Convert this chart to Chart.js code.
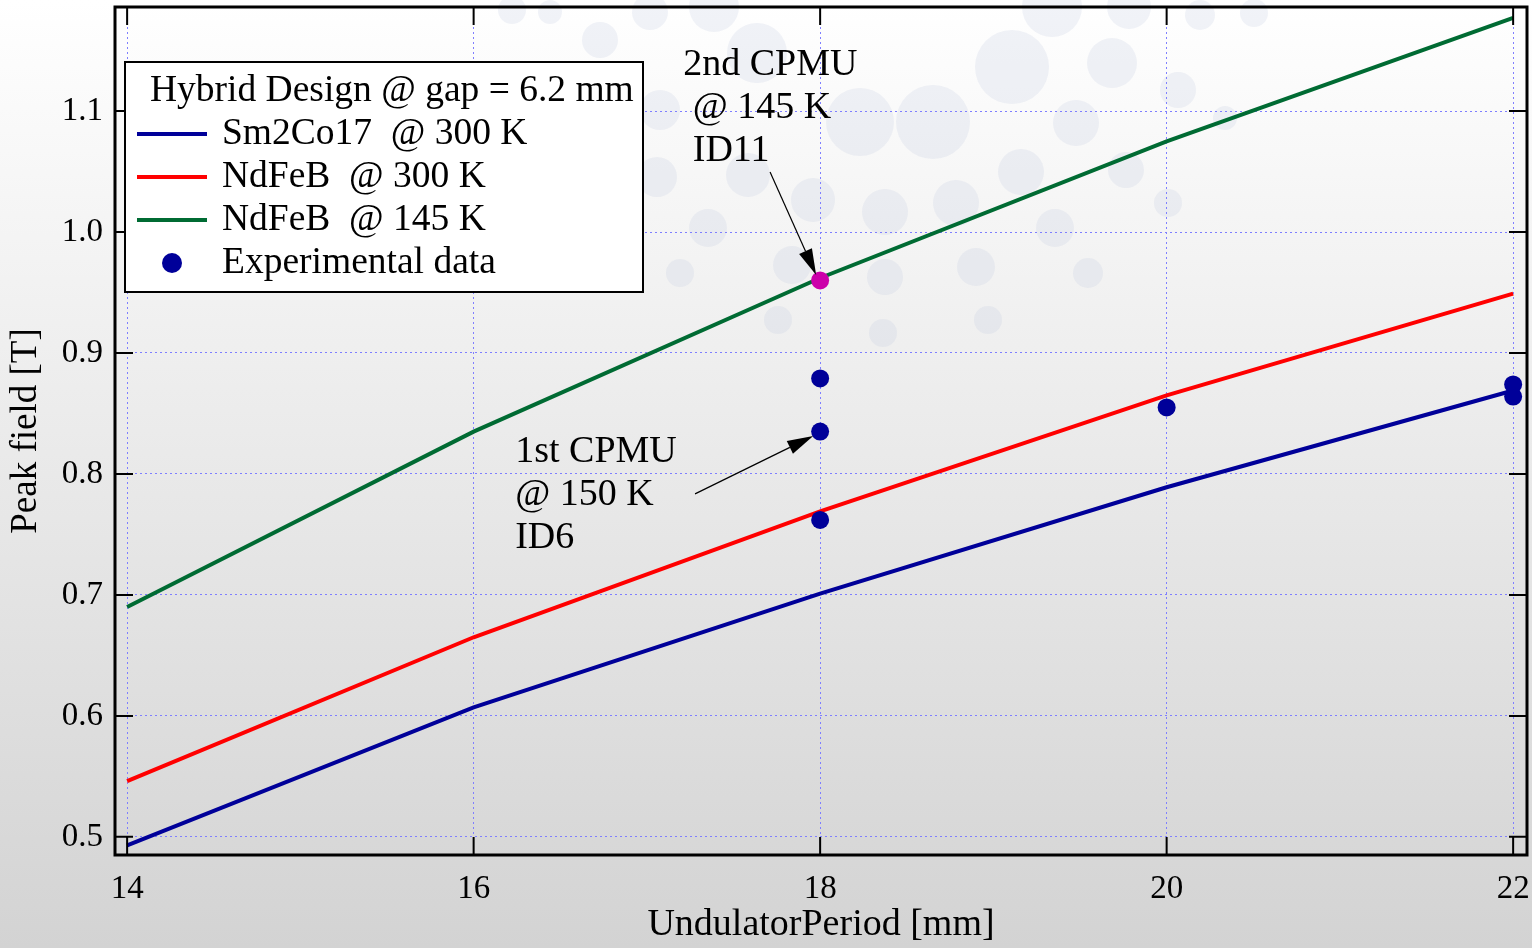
<!DOCTYPE html>
<html lang="en">
<head>
    <meta charset="UTF-8">
    <title>Peak field vs undulator period</title>
    <script src="https://cdn.jsdelivr.net/npm/chart.js"></script>
    <style>
        html, body { margin: 0; padding: 0; background: #fff; }
        canvas { display: block; }
    </style>
</head>
<body>
    <canvas id="fieldChart" width="1532" height="948"></canvas>
    <script>
        // values
        const periods = [14, 16, 18, 20, 22];
        const sm2co17At300K = [0.493, 0.607, 0.701, 0.789, 0.869];
        const ndfebAt300K = [0.546, 0.665, 0.769, 0.865, 0.949];
        const ndfebAt145K = [0.690, 0.835, 0.962, 1.075, 1.177];
        const expPeriods = [18, 18, 18, 18, 20, 22, 22];
        const expFields = [0.960, 0.879, 0.835, 0.762, 0.855, 0.874, 0.864];
        const expColors = ['#cc00aa', '#000099', '#000099', '#000099', '#000099', '#000099', '#000099'];

        const xTicks = [14, 16, 18, 20, 22];
        const yTicks = [0.5, 0.6, 0.7, 0.8, 0.9, 1.0, 1.1];
        const yTickLabels = ['0.5', '0.6', '0.7', '0.8', '0.9', '1.0', '1.1'];

        const legendTitle = 'Hybrid Design @ gap = 6.2 mm';
        const seriesNames = ['Sm2Co17  @ 300 K', 'NdFeB  @ 300 K', 'NdFeB  @ 145 K', 'Experimental data'];

        const notes = [
            { lines: ['2nd CPMU', ' @ 145 K', ' ID11'], at: [17.21, 1.138], from: [17.711, 1.0496], to: [17.977, 0.9645] },
            { lines: ['1st CPMU', '@ 150 K', 'ID6'], at: [16.24, 0.818], from: [17.278, 0.7835], to: [17.96, 0.8314] }
        ];

        // faint decorative bubbles in the background (pixel space)
        const bubbles = [
            [1012, 67, 37], [933, 122, 37], [860, 122, 34], [757, 53, 30], [1112, 63, 25], [1178, 90, 18],
            [1076, 123, 23], [1021, 172, 23], [1126, 170, 18], [956, 203, 23], [885, 212, 23], [813, 200, 22],
            [748, 175, 22], [657, 177, 20], [708, 228, 19], [1055, 228, 19], [1168, 203, 14], [792, 265, 19],
            [885, 277, 18], [976, 267, 19], [1088, 273, 15], [680, 273, 14], [778, 320, 14], [883, 333, 14],
            [988, 320, 14], [714, 7, 25], [1052, 7, 30], [1129, 7, 22], [1200, 15, 15], [1254, 13, 14],
            [512, 10, 14], [550, 12, 12], [650, 12, 18], [1225, 118, 12], [600, 40, 18], [660, 110, 20]
        ];

        const serif = "'Liberation Serif', 'Times New Roman', serif";

        const pairs = (xs, ys) => xs.map((x, i) => ({ x: x, y: ys[i] }));

        const backdrop = {
            id: 'backdrop',
            beforeDraw(chart) {
                const ctx = chart.ctx;
                const g = ctx.createLinearGradient(0, 0, 0, chart.height);
                g.addColorStop(0, '#ffffff');
                g.addColorStop(1, '#d3d3d3');
                ctx.save();
                ctx.fillStyle = g;
                ctx.fillRect(0, 0, chart.width, chart.height);
                ctx.fillStyle = 'rgba(190, 200, 222, 0.22)';
                bubbles.forEach(b => {
                    ctx.beginPath();
                    ctx.arc(b[0], b[1], b[2], 0, Math.PI * 2);
                    ctx.fill();
                });
                ctx.restore();
            }
        };

        const frame = {
            id: 'frame',
            afterDraw(chart) {
                const ctx = chart.ctx;
                const a = chart.chartArea;
                const xs = chart.scales.x, ys = chart.scales.y;
                const tl = 18;
                ctx.save();
                ctx.strokeStyle = '#000';
                ctx.lineWidth = 2;
                ctx.beginPath();
                xTicks.forEach(v => {
                    const px = xs.getPixelForValue(v);
                    ctx.moveTo(px, a.bottom); ctx.lineTo(px, a.bottom - tl);
                    ctx.moveTo(px, a.top); ctx.lineTo(px, a.top + tl);
                });
                yTicks.forEach(v => {
                    const py = ys.getPixelForValue(v);
                    ctx.moveTo(a.left, py); ctx.lineTo(a.left + tl, py);
                    ctx.moveTo(a.right, py); ctx.lineTo(a.right - tl, py);
                });
                ctx.stroke();
                ctx.lineWidth = 3;
                ctx.strokeRect(a.left, a.top, a.right - a.left, a.bottom - a.top);

                // annotations with arrows
                ctx.font = '38px ' + serif;
                ctx.fillStyle = '#000';
                ctx.textBaseline = 'middle';
                ctx.textAlign = 'left';
                notes.forEach(n => {
                    const tx = xs.getPixelForValue(n.at[0]);
                    const ty = ys.getPixelForValue(n.at[1]);
                    n.lines.forEach((s, i) => ctx.fillText(s, tx, ty + i * 43));
                    const x0 = xs.getPixelForValue(n.from[0]), y0 = ys.getPixelForValue(n.from[1]);
                    const x1 = xs.getPixelForValue(n.to[0]), y1 = ys.getPixelForValue(n.to[1]);
                    const ang = Math.atan2(y1 - y0, x1 - x0);
                    const hl = 26, hw = 7;
                    const bx = x1 - hl * Math.cos(ang), by = y1 - hl * Math.sin(ang);
                    ctx.lineWidth = 1.2;
                    ctx.beginPath();
                    ctx.moveTo(x0, y0); ctx.lineTo(bx, by);
                    ctx.stroke();
                    ctx.beginPath();
                    ctx.moveTo(x1, y1);
                    ctx.lineTo(bx + hw * Math.sin(ang), by - hw * Math.cos(ang));
                    ctx.lineTo(bx - hw * Math.sin(ang), by + hw * Math.cos(ang));
                    ctx.closePath();
                    ctx.fill();
                });

                // legend box
                const lx = a.left + 10, ly = a.top + 55, lw = 518, lh = 230;
                ctx.font = '37.5px ' + serif;
                ctx.fillStyle = '#ffffff';
                ctx.fillRect(lx, ly, lw, lh);
                ctx.lineWidth = 2;
                ctx.strokeStyle = '#000';
                ctx.strokeRect(lx, ly, lw, lh);
                ctx.fillStyle = '#000';
                ctx.fillText(legendTitle, lx + 25, ly + 29);
                chart.data.datasets.forEach((ds, i) => {
                    const rowY = ly + 72 + i * 43;
                    if (ds.showLine === false) {
                        ctx.fillStyle = '#000099';
                        ctx.beginPath();
                        ctx.arc(lx + 47, rowY, 10, 0, Math.PI * 2);
                        ctx.fill();
                    } else {
                        ctx.strokeStyle = ds.borderColor;
                        ctx.lineWidth = 4;
                        ctx.beginPath();
                        ctx.moveTo(lx + 12, rowY); ctx.lineTo(lx + 82, rowY);
                        ctx.stroke();
                    }
                    ctx.fillStyle = '#000';
                    ctx.fillText(ds.label, lx + 97, rowY);
                });
                ctx.restore();
            }
        };

        const lineSet = (label, ys, color) => ({
            label: label,
            data: pairs(periods, ys),
            borderColor: color,
            backgroundColor: color,
            borderWidth: 4,
            pointRadius: 0,
            tension: 0,
            order: 1
        });

        const noPad = s => {
            s.paddingLeft = 0; s.paddingRight = 0; s.paddingTop = 0; s.paddingBottom = 0;
        };

        new Chart(document.getElementById('fieldChart'), {
            type: 'line',
            data: {
                datasets: [
                    lineSet(seriesNames[0], sm2co17At300K, '#000099'),
                    lineSet(seriesNames[1], ndfebAt300K, '#ff0000'),
                    lineSet(seriesNames[2], ndfebAt145K, '#006b33'),
                    {
                        label: seriesNames[3],
                        data: pairs(expPeriods, expFields),
                        showLine: false,
                        pointRadius: 9,
                        pointBackgroundColor: expColors,
                        pointBorderWidth: 0,
                        order: 0
                    }
                ]
            },
            options: {
                responsive: false,
                animation: false,
                devicePixelRatio: 1,
                layout: { autoPadding: false, padding: { top: 7, right: 5, left: 0, bottom: 0 } },
                plugins: { legend: { display: false }, tooltip: { enabled: false } },
                scales: {
                    x: {
                        type: 'linear',
                        min: 13.93,
                        max: 22.08,
                        afterBuildTicks: s => { s.ticks = xTicks.map(v => ({ value: v })); },
                        afterFit: s => { s.height = 93; noPad(s); },
                        grid: { color: '#7f7fff', lineWidth: 1, drawTicks: false },
                        border: { display: false, dash: [2, 3] },
                        ticks: { color: '#000', font: { family: serif, size: 33 }, padding: 15, maxRotation: 0 },
                        title: { display: true, text: 'UndulatorPeriod [mm]', color: '#000', font: { family: serif, size: 38 }, padding: 0 }
                    },
                    y: {
                        type: 'linear',
                        min: 0.485,
                        max: 1.186,
                        afterBuildTicks: s => { s.ticks = yTicks.map(v => ({ value: v })); },
                        afterFit: s => { s.width = 115; noPad(s); },
                        grid: { color: '#7f7fff', lineWidth: 1, drawTicks: false },
                        border: { display: false, dash: [2, 3] },
                        ticks: {
                            color: '#000', font: { family: serif, size: 33 }, padding: 12,
                            callback: (v, i) => yTickLabels[i]
                        },
                        title: { display: true, text: 'Peak field [T]', color: '#000', font: { family: serif, size: 37 }, padding: 4 }
                    }
                }
            },
            plugins: [backdrop, frame]
        });
    </script>
</body>
</html>
